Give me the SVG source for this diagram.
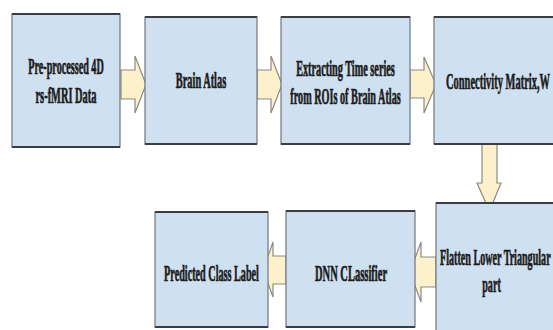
<svg xmlns="http://www.w3.org/2000/svg" width="553" height="330" viewBox="0 0 553 330">
  <style>
    .box { fill: #cfe0f1; stroke: #7a7f86; stroke-width: 1.3; }
    .edge { stroke: #3a3d42; stroke-width: 2; }
    .lbl { font-family: "Liberation Serif", "Times New Roman", serif; font-weight: bold; font-size: 23px; fill: #1c1c1c; stroke: #1c1c1c; stroke-width: 0.7; text-anchor: middle; }
    .lbl-start { text-anchor: start; }
    .arrow { fill: #fdf1cb; stroke: #8a8a86; stroke-width: 1.2; stroke-linejoin: miter; }
  </style>
  <rect width="553" height="330" fill="#ffffff"/>

  <g id="connectors">
    <!-- right-pointing block arrows along the top row -->
    <polygon class="arrow" points="121,70 135,70 135,56 146,84.5 135,113 135,99 121,99"/>
    <polygon class="arrow" points="257,70 271,70 271,56 282,84.5 271,113 271,99 257,99"/>
    <polygon class="arrow" points="410,70 424,70 424,57 436,84.5 424,113 424,98 410,98"/>
    <!-- downward block arrow -->
    <polygon class="arrow" points="482,144 482,183 477,183 489.5,211 501,183 497,183 497,144"/>
    <!-- left-pointing block arrows along the bottom row -->
    <polygon class="arrow" points="436,257 421,257 421,242 410,272 421,302 421,287 436,287"/>
    <polygon class="arrow" points="286,256 273,256 273,242 263,270 273,297 273,284 286,284"/>
  </g>

  <!-- labels use a narrow horizontal scale for the condensed serif look -->
  <g id="node-data">
    <rect class="box" x="12" y="14" width="108" height="133"/>
    <line class="edge" x1="12" y1="14" x2="120" y2="14"/>
    <line class="edge" x1="12" y1="147" x2="120" y2="147"/>
    <text class="lbl" transform="translate(66 74) scale(0.442 1)">Pre-processed 4D</text>
    <text class="lbl" transform="translate(66 103) scale(0.453 1)">rs-fMRI Data</text>
  </g>

  <g id="node-atlas">
    <rect class="box" x="145" y="17" width="112" height="127"/>
    <line class="edge" x1="145" y1="17" x2="257" y2="17"/>
    <line class="edge" x1="145" y1="144" x2="257" y2="144"/>
    <text class="lbl" transform="translate(201 88) scale(0.451 1)">Brain Atlas</text>
  </g>

  <g id="node-timeseries">
    <rect class="box" x="281" y="17" width="129" height="127"/>
    <line class="edge" x1="281" y1="17" x2="410" y2="17"/>
    <line class="edge" x1="281" y1="144" x2="410" y2="144"/>
    <text class="lbl" transform="translate(345.5 76) scale(0.446 1)">Extracting Time series</text>
    <text class="lbl" transform="translate(345.5 104) scale(0.444 1)">from ROIs of Brain Atlas</text>
  </g>

  <g id="node-connectivity">
    <rect class="box" x="434" y="17" width="130" height="127"/>
    <line class="edge" x1="434" y1="17" x2="564" y2="17"/>
    <line class="edge" x1="434" y1="144" x2="564" y2="144"/>
    <text class="lbl lbl-start" transform="translate(446 89) scale(0.455 1)">Connectivity Matrix,W</text>
  </g>

  <g id="node-flatten">
    <rect class="box" x="436" y="203" width="130" height="135"/>
    <line class="edge" x1="436" y1="203" x2="566" y2="203"/>
    <text class="lbl lbl-start" transform="translate(440 265) scale(0.44 1)">Flatten Lower Triangular</text>
    <text class="lbl" transform="translate(491.5 292) scale(0.438 1)">part</text>
  </g>

  <g id="node-dnn">
    <rect class="box" x="286" y="211" width="129" height="116"/>
    <line class="edge" x1="286" y1="211" x2="415" y2="211"/>
    <line class="edge" x1="286" y1="327" x2="415" y2="327"/>
    <text class="lbl" transform="translate(351 281) scale(0.457 1)">DNN CLassifier</text>
  </g>

  <g id="node-predicted">
    <rect class="box" x="155" y="212" width="113" height="115"/>
    <line class="edge" x1="155" y1="212" x2="268" y2="212"/>
    <line class="edge" x1="155" y1="327" x2="268" y2="327"/>
    <text class="lbl" transform="translate(211.5 281) scale(0.443 1)">Predicted Class Label</text>
  </g>
</svg>
